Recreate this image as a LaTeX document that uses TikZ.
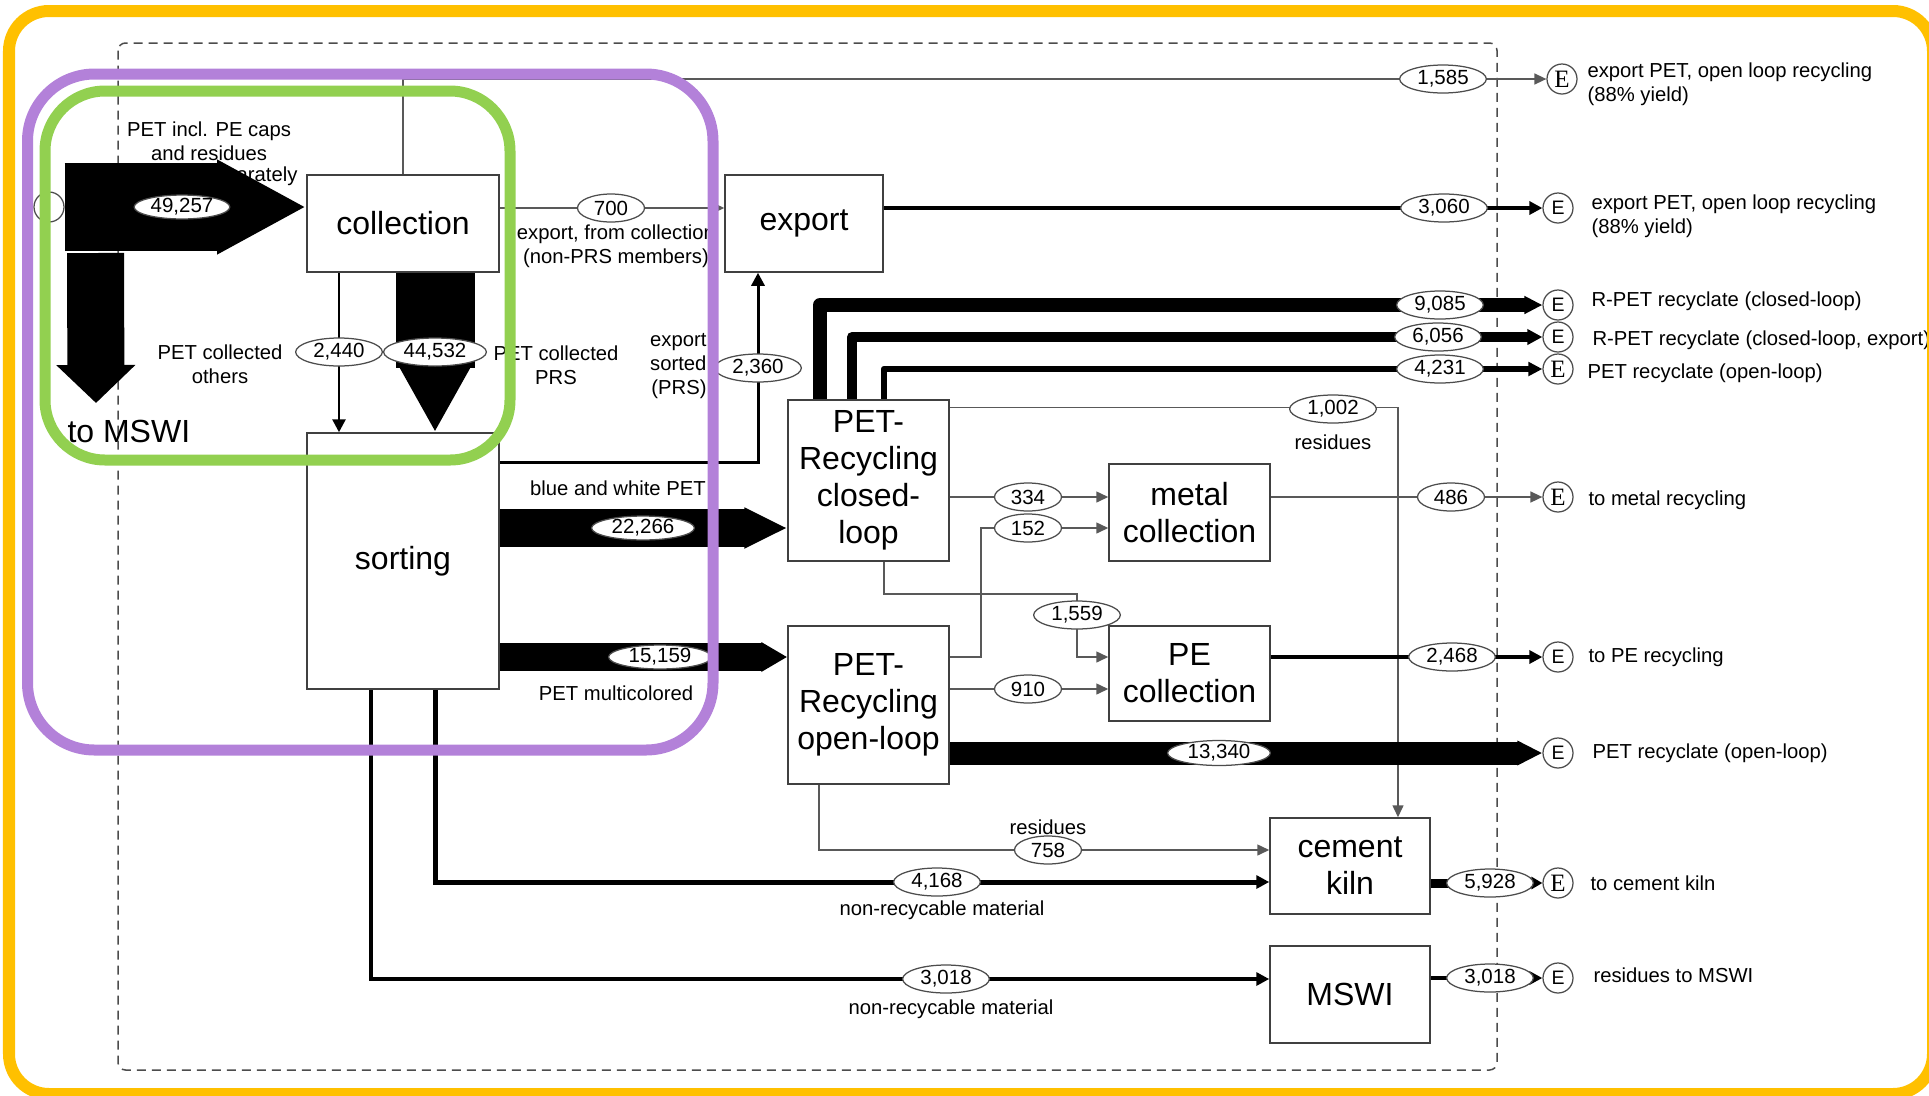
\documentclass[tikz,border=0pt]{standalone}
\usepackage{fontspec}
\setmainfont{Liberation Sans}
\newfontfamily\efont{Liberation Serif}
\usetikzlibrary{arrows.meta,shapes.geometric,backgrounds}
\definecolor{frameorange}{HTML}{FFC000}
\definecolor{framepurple}{HTML}{B381D9}
\definecolor{framegreen}{HTML}{92D050}

\begin{document}
\begin{tikzpicture}[x=0.4pt,y=-0.4pt,
    proc/.style={draw=black!75,line width=0.6pt,fill=white,align=center,inner sep=0pt,
      font=\fontsize{12.8}{14.8}\selectfont},
    flow/.style={ellipse,draw=black!70,line width=0.5pt,fill=white,inner xsep=2pt,inner ysep=0pt,
      minimum width=26.8pt,minimum height=11.2pt,font=\fontsize{8.2}{9}\selectfont},
    sink/.style={circle,draw=black!70,line width=0.5pt,fill=white,minimum size=12pt,inner sep=0pt,
      font=\fontsize{7.8}{8}\selectfont},
    sinkr/.style={sink,font=\efont\fontsize{10}{10}\selectfont},
    lbl/.style={align=center,inner sep=0pt,font=\fontsize{8.1}{9.6}\selectfont},
    elbl/.style={lbl,anchor=west,align=left},
    thinline/.style={draw=black!65,line width=0.6pt},
    thinarrow/.style={-{Triangle[length=4.8pt,width=4.4pt]}},
    midarrow/.style={-{Triangle[length=5.2pt,width=5.2pt]}},
  ]
  \useasboundingbox (0,0) rectangle (1929,1095);

  % processes
  \node[proc,minimum width=76.8pt,minimum height=38.8pt] (coll) at (403,223.5) {collection};
  \node[proc,minimum width=63.2pt,minimum height=38.8pt] (expo) at (804,223.5) {export};
  \node[proc,minimum width=76.8pt,minimum height=102.4pt] (sort) at (403,561) {sorting};
  \node[proc,minimum width=64.4pt,minimum height=64.4pt] (closed) at (868.5,480.5) {PET-\\Recycling\\closed-\\loop};
  \node[proc,minimum width=64.4pt,minimum height=63.2pt] (open) at (868.5,705) {PET-\\Recycling\\open-loop};
  \node[proc,minimum width=64.4pt,minimum height=38.8pt] (metal) at (1189.5,512.5) {metal\\collection};
  \node[proc,minimum width=64.4pt,minimum height=38pt] (pe) at (1189.5,673.5) {PE\\collection};
  \node[proc,minimum width=64pt,minimum height=38.4pt] (kiln) at (1350,866) {cement\\kiln};
  \node[proc,minimum width=64pt,minimum height=38.8pt] (mswi) at (1350,994.5) {MSWI};

  % source and sinks
  \node[circle,draw=black!70,line width=0.5pt,minimum size=12pt,inner sep=0pt] (src) at (49,207) {};
  \node[sinkr] (e1585) at (1562,79) {E};
  \node[sink] (e3060) at (1558,208) {E};
  \node[sink] (e9085) at (1558,305) {E};
  \node[sink] (e6056) at (1558,337) {E};
  \node[sinkr] (e4231) at (1558,369) {E};
  \node[sinkr] (e486) at (1558,497) {E};
  \node[sink] (e2468) at (1558,657) {E};
  \node[sink] (e13340) at (1558,753) {E};
  \node[sinkr] (e5928) at (1558,883) {E};
  \node[sink] (e3018) at (1558,978) {E};

  % flow values
  \node[flow,inner xsep=1pt,minimum height=8.8pt] (f49257) at (182,207) {49,257};
  \node[flow] (f1585) at (1443,79) {1,585};
  \node[flow] (f700) at (611,208) {700};
  \node[flow] (f3060) at (1444,208) {3,060};
  \node[flow] (f2440) at (339,352) {2,440};
  \node[flow] (f44532) at (435,352) {44,532};
  \node[flow] (f2360) at (758,368) {2,360};
  \node[flow] (f9085) at (1440,305) {9,085};
  \node[flow] (f6056) at (1438,337) {6,056};
  \node[flow] (f4231) at (1440,369) {4,231};
  \node[flow] (f1002) at (1333,409) {1,002};
  \node[flow,minimum height=8.8pt] (f22266) at (643,528) {22,266};
  \node[flow] (f334) at (1028,497) {334};
  \node[flow] (f152) at (1028,528) {152};
  \node[flow] (f1559) at (1077,615) {1,559};
  \node[flow] (f486) at (1451,497) {486};
  \node[flow,minimum height=8.8pt] (f15159) at (660,657) {15,159};
  \node[flow] (f910) at (1028,689) {910};
  \node[flow] (f2468) at (1452,657) {2,468};
  \node[flow,minimum height=10pt] (f13340) at (1219,753) {13,340};
  \node[flow] (f758) at (1048,850) {758};
  \node[flow] (f4168) at (937,882) {4,168};
  \node[flow] (f5928) at (1490,883) {5,928};
  \node[flow] (f3018a) at (946,979) {3,018};
  \node[flow] (f3018b) at (1490,978) {3,018};

  % labels
  \node[lbl] (tothers) at (220,364) {PET collected\\others};
  \node[lbl] (tprs) at (556,365) {PET collected\\PRS};
  \node[lbl,anchor=east,align=right] (tsorted) at (707,366) {export\\sorted\\(PRS)};
  \node[lbl] (tnonprs) at (616,246) {export, from collection\\(non-PRS members)};
  \node[lbl] (tblue) at (618,488) {blue and white PET};
  \node[lbl] (tmulti) at (616,693) {PET multicolored};
  \node[lbl] (tres1) at (1333,442) {residues};
  \node[lbl] (tres2) at (1048,827) {residues};
  \node[lbl] (tnonrec1) at (942,910) {non-recycable material};
  \node[lbl] (tnonrec2) at (951,1009) {non-recycable material};
  \node[anchor=west,inner sep=0pt,font=\fontsize{12.8}{14}\selectfont] (tmswi) at (67,431) {to MSWI};
  \node[elbl] (l1585) at (1587,84) {export PET, open loop recycling\\(88\% yield)};
  \node[elbl] (l3060) at (1591,216) {export PET, open loop recycling\\(88\% yield)};
  \node[elbl] (l9085) at (1591,301) {R-PET recyclate (closed-loop)};
  \node[elbl] (l6056) at (1592,340) {R-PET recyclate (closed-loop, export)};
  \node[elbl] (l4231) at (1587,373) {PET recyclate (open-loop)};
  \node[elbl] (l486) at (1588,500) {to metal recycling};
  \node[elbl] (l2468) at (1588,657) {to PE recycling};
  \node[elbl] (l13340) at (1592,753) {PET recyclate (open-loop)};
  \node[elbl] (l5928) at (1590,883) {to cement kiln};
  \node[elbl] (l3018) at (1593,975) {residues to MSWI};

  \coordinate (split) at (95.5,253);
  \coordinate (dump) at (96,403);

  \begin{scope}[on background layer]
    \draw[black!70,line width=0.6pt,dash pattern=on 3.6pt off 2.4pt,rounded corners=3pt]
      (118,43) rectangle (1497,1070);
    % input and collection
    \node[lbl] (tinput) at (209,141) {PET incl. PE caps\\and residues};
    \node[lbl,anchor=east] (tsep) at (298,176) {separately};
    \draw[line width=35.2pt,-{Triangle[length=35.6pt,width=0pt 1]}] (src.east) -- (src.east -| coll.west);
    \draw[line width=22.8pt,-{Triangle[length=15.2pt,width=0pt 1.35]}] (split) -- (dump);
    \draw[thinline,thinarrow] (coll.north) |- (e1585.west);
    \draw[thinline,thinarrow] (coll.east |- f700) -- (expo.west |- f700);
    \draw[line width=1.6pt,midarrow] (expo.east |- f3060) -- (e3060.west);
    \draw[line width=1.1pt,midarrow] (coll.south -| f2440) -- (sort.north -| f2440);
    \draw[line width=31.6pt,-{Triangle[length=27.6pt,width=0pt 0.89]}] (coll.south -| f44532) -- (sort.north -| f44532);
    % sorting
    \draw[line width=1.2pt,midarrow] ([yshift=-12pt]sort.north east) -| (expo.south -| f2360);
    \draw[line width=15.2pt,-{Triangle[length=17.2pt,width=0pt 1]}] (sort.east |- f22266) -- (closed.west |- f22266);
    \draw[line width=11.2pt,-{Triangle[length=10.4pt,width=0pt 1]}] (sort.east |- f15159) -- (open.west |- f15159);
    \draw[line width=2pt,midarrow] ([xshift=12.8pt]sort.south) |- (kiln.west |- f4168);
    \draw[line width=1.6pt,midarrow] ([xshift=-12.8pt]sort.south) |- (mswi.west |- f3018a);
    % closed loop
    \draw[line width=5.6pt,line join=round,-{Triangle[length=7.2pt,width=6.8pt]}] ([xshift=-19.4pt]closed.north) |- (e9085.west);
    \draw[line width=4pt,line join=round,-{Triangle[length=6pt,width=6pt]}] ([xshift=-6.6pt]closed.north) |- (e6056.west);
    \draw[line width=2.5pt,line join=round,-{Triangle[length=5.6pt,width=5.4pt]}] ([xshift=6.2pt]closed.north) |- (e4231.west);
    \draw[thinline,thinarrow] ([yshift=-3.2pt]closed.north east) -| ([xshift=19.2pt]kiln.north);
    \draw[thinline,thinarrow] (closed.east |- f334) -- (metal.west |- f334);
    \draw[thinline,thinarrow] ([xshift=6.2pt]closed.south) -- ++(0,32) -| (f1559.center) |- ([yshift=6.6pt]pe.west);
    % open loop
    \draw[thinline,thinarrow] ([yshift=19.2pt]open.east) -- ++(31,0) |- (metal.west |- f152);
    \draw[thinline,thinarrow] (open.east |- f910) -- (pe.west |- f910);
    \draw[line width=9.2pt,-{Triangle[length=10pt,width=0pt 1]}] (open.east |- f13340) -- (e13340.west);
    \draw[thinline,thinarrow] ([xshift=-19.8pt]open.south) |- (kiln.west |- f758);
    % final sinks
    \draw[thinline,thinarrow] (metal.east |- f486) -- (e486.west);
    \draw[line width=1.8pt,midarrow] (pe.east |- f2468) -- (e2468.west);
    \draw[line width=3.6pt,-{Triangle[length=4.4pt,width=4.8pt]}] (kiln.east |- f5928) -- (e5928.west);
    \draw[line width=1.6pt,midarrow] (mswi.east |- f3018b) -- (e3018.west);
  \end{scope}

  % frames
  \draw[framepurple,line width=4.4pt,rounded corners=26.8pt] (27.5,74) rectangle (713,750);
  \draw[framegreen,line width=4.4pt,rounded corners=24pt] (45,91) rectangle (510,460);
  \draw[frameorange,line width=4.8pt,rounded corners=16pt] (9,11) rectangle (1933,1094);
\end{tikzpicture}
\end{document}
